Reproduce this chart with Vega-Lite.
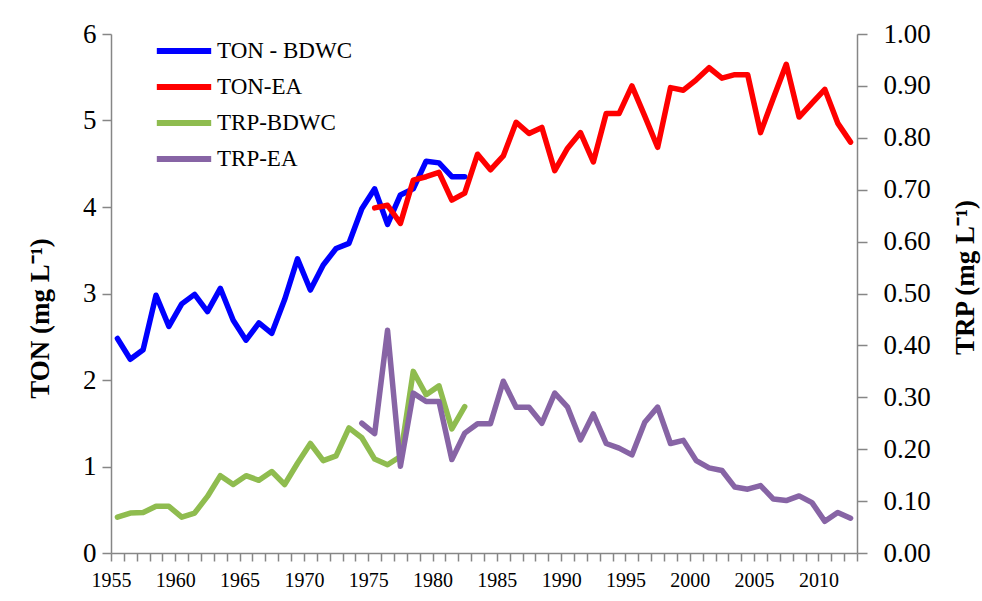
{
  "$schema": "https://vega.github.io/schema/vega-lite/v6.json",
  "width": 746,
  "height": 519,
  "autosize": {"type": "none"},
  "padding": {"left": 111, "top": 34, "right": 125, "bottom": 48},
  "background": "white",
  "config": {
    "view": {"stroke": null},
    "font": "Liberation Serif",
    "axis": {
      "grid": false,
      "domainColor": "#868686",
      "tickColor": "#868686",
      "domainWidth": 1.5,
      "tickWidth": 1.5,
      "labelFont": "Liberation Serif",
      "labelColor": "#000000",
      "titleFont": "Liberation Serif",
      "titleColor": "#000000"
    }
  },
  "datasets": {
    "ton": [
      {"year": 1955, "series": "TON - BDWC", "value": 2.48},
      {"year": 1956, "series": "TON - BDWC", "value": 2.24},
      {"year": 1957, "series": "TON - BDWC", "value": 2.35},
      {"year": 1958, "series": "TON - BDWC", "value": 2.98},
      {"year": 1959, "series": "TON - BDWC", "value": 2.62},
      {"year": 1960, "series": "TON - BDWC", "value": 2.88},
      {"year": 1961, "series": "TON - BDWC", "value": 2.99},
      {"year": 1962, "series": "TON - BDWC", "value": 2.79},
      {"year": 1963, "series": "TON - BDWC", "value": 3.06},
      {"year": 1964, "series": "TON - BDWC", "value": 2.69},
      {"year": 1965, "series": "TON - BDWC", "value": 2.46},
      {"year": 1966, "series": "TON - BDWC", "value": 2.66},
      {"year": 1967, "series": "TON - BDWC", "value": 2.54},
      {"year": 1968, "series": "TON - BDWC", "value": 2.93},
      {"year": 1969, "series": "TON - BDWC", "value": 3.40},
      {"year": 1970, "series": "TON - BDWC", "value": 3.04},
      {"year": 1971, "series": "TON - BDWC", "value": 3.33},
      {"year": 1972, "series": "TON - BDWC", "value": 3.52},
      {"year": 1973, "series": "TON - BDWC", "value": 3.58},
      {"year": 1974, "series": "TON - BDWC", "value": 3.98},
      {"year": 1975, "series": "TON - BDWC", "value": 4.21},
      {"year": 1976, "series": "TON - BDWC", "value": 3.80},
      {"year": 1977, "series": "TON - BDWC", "value": 4.14},
      {"year": 1978, "series": "TON - BDWC", "value": 4.21},
      {"year": 1979, "series": "TON - BDWC", "value": 4.53},
      {"year": 1980, "series": "TON - BDWC", "value": 4.51},
      {"year": 1981, "series": "TON - BDWC", "value": 4.35},
      {"year": 1982, "series": "TON - BDWC", "value": 4.35},
      {"year": 1975, "series": "TON-EA", "value": 3.99},
      {"year": 1976, "series": "TON-EA", "value": 4.02},
      {"year": 1977, "series": "TON-EA", "value": 3.81},
      {"year": 1978, "series": "TON-EA", "value": 4.31},
      {"year": 1979, "series": "TON-EA", "value": 4.35},
      {"year": 1980, "series": "TON-EA", "value": 4.40},
      {"year": 1981, "series": "TON-EA", "value": 4.08},
      {"year": 1982, "series": "TON-EA", "value": 4.16},
      {"year": 1983, "series": "TON-EA", "value": 4.61},
      {"year": 1984, "series": "TON-EA", "value": 4.43},
      {"year": 1985, "series": "TON-EA", "value": 4.59},
      {"year": 1986, "series": "TON-EA", "value": 4.98},
      {"year": 1987, "series": "TON-EA", "value": 4.85},
      {"year": 1988, "series": "TON-EA", "value": 4.92},
      {"year": 1989, "series": "TON-EA", "value": 4.42},
      {"year": 1990, "series": "TON-EA", "value": 4.68},
      {"year": 1991, "series": "TON-EA", "value": 4.86},
      {"year": 1992, "series": "TON-EA", "value": 4.52},
      {"year": 1993, "series": "TON-EA", "value": 5.08},
      {"year": 1994, "series": "TON-EA", "value": 5.08},
      {"year": 1995, "series": "TON-EA", "value": 5.40},
      {"year": 1996, "series": "TON-EA", "value": 5.05},
      {"year": 1997, "series": "TON-EA", "value": 4.69},
      {"year": 1998, "series": "TON-EA", "value": 5.38},
      {"year": 1999, "series": "TON-EA", "value": 5.35},
      {"year": 2000, "series": "TON-EA", "value": 5.47},
      {"year": 2001, "series": "TON-EA", "value": 5.61},
      {"year": 2002, "series": "TON-EA", "value": 5.49},
      {"year": 2003, "series": "TON-EA", "value": 5.53},
      {"year": 2004, "series": "TON-EA", "value": 5.53},
      {"year": 2005, "series": "TON-EA", "value": 4.86},
      {"year": 2006, "series": "TON-EA", "value": 5.26},
      {"year": 2007, "series": "TON-EA", "value": 5.65},
      {"year": 2008, "series": "TON-EA", "value": 5.04},
      {"year": 2009, "series": "TON-EA", "value": 5.20},
      {"year": 2010, "series": "TON-EA", "value": 5.36},
      {"year": 2011, "series": "TON-EA", "value": 4.97},
      {"year": 2012, "series": "TON-EA", "value": 4.75}
    ],
    "trp": [
      {"year": 1955, "series": "TRP-BDWC", "value": 0.069},
      {"year": 1956, "series": "TRP-BDWC", "value": 0.077},
      {"year": 1957, "series": "TRP-BDWC", "value": 0.078},
      {"year": 1958, "series": "TRP-BDWC", "value": 0.090},
      {"year": 1959, "series": "TRP-BDWC", "value": 0.090},
      {"year": 1960, "series": "TRP-BDWC", "value": 0.069},
      {"year": 1961, "series": "TRP-BDWC", "value": 0.077},
      {"year": 1962, "series": "TRP-BDWC", "value": 0.109},
      {"year": 1963, "series": "TRP-BDWC", "value": 0.149},
      {"year": 1964, "series": "TRP-BDWC", "value": 0.132},
      {"year": 1965, "series": "TRP-BDWC", "value": 0.149},
      {"year": 1966, "series": "TRP-BDWC", "value": 0.140},
      {"year": 1967, "series": "TRP-BDWC", "value": 0.157},
      {"year": 1968, "series": "TRP-BDWC", "value": 0.132},
      {"year": 1969, "series": "TRP-BDWC", "value": 0.173},
      {"year": 1970, "series": "TRP-BDWC", "value": 0.211},
      {"year": 1971, "series": "TRP-BDWC", "value": 0.178},
      {"year": 1972, "series": "TRP-BDWC", "value": 0.187},
      {"year": 1973, "series": "TRP-BDWC", "value": 0.241},
      {"year": 1974, "series": "TRP-BDWC", "value": 0.222},
      {"year": 1975, "series": "TRP-BDWC", "value": 0.181},
      {"year": 1976, "series": "TRP-BDWC", "value": 0.170},
      {"year": 1977, "series": "TRP-BDWC", "value": 0.186},
      {"year": 1978, "series": "TRP-BDWC", "value": 0.350},
      {"year": 1979, "series": "TRP-BDWC", "value": 0.305},
      {"year": 1980, "series": "TRP-BDWC", "value": 0.322},
      {"year": 1981, "series": "TRP-BDWC", "value": 0.239},
      {"year": 1982, "series": "TRP-BDWC", "value": 0.282},
      {"year": 1974, "series": "TRP-EA", "value": 0.250},
      {"year": 1975, "series": "TRP-EA", "value": 0.230},
      {"year": 1976, "series": "TRP-EA", "value": 0.429},
      {"year": 1977, "series": "TRP-EA", "value": 0.167},
      {"year": 1978, "series": "TRP-EA", "value": 0.308},
      {"year": 1979, "series": "TRP-EA", "value": 0.292},
      {"year": 1980, "series": "TRP-EA", "value": 0.292},
      {"year": 1981, "series": "TRP-EA", "value": 0.180},
      {"year": 1982, "series": "TRP-EA", "value": 0.231},
      {"year": 1983, "series": "TRP-EA", "value": 0.249},
      {"year": 1984, "series": "TRP-EA", "value": 0.249},
      {"year": 1985, "series": "TRP-EA", "value": 0.331},
      {"year": 1986, "series": "TRP-EA", "value": 0.281},
      {"year": 1987, "series": "TRP-EA", "value": 0.281},
      {"year": 1988, "series": "TRP-EA", "value": 0.250},
      {"year": 1989, "series": "TRP-EA", "value": 0.308},
      {"year": 1990, "series": "TRP-EA", "value": 0.281},
      {"year": 1991, "series": "TRP-EA", "value": 0.218},
      {"year": 1992, "series": "TRP-EA", "value": 0.268},
      {"year": 1993, "series": "TRP-EA", "value": 0.211},
      {"year": 1994, "series": "TRP-EA", "value": 0.202},
      {"year": 1995, "series": "TRP-EA", "value": 0.189},
      {"year": 1996, "series": "TRP-EA", "value": 0.252},
      {"year": 1997, "series": "TRP-EA", "value": 0.281},
      {"year": 1998, "series": "TRP-EA", "value": 0.211},
      {"year": 1999, "series": "TRP-EA", "value": 0.217},
      {"year": 2000, "series": "TRP-EA", "value": 0.178},
      {"year": 2001, "series": "TRP-EA", "value": 0.164},
      {"year": 2002, "series": "TRP-EA", "value": 0.159},
      {"year": 2003, "series": "TRP-EA", "value": 0.127},
      {"year": 2004, "series": "TRP-EA", "value": 0.123},
      {"year": 2005, "series": "TRP-EA", "value": 0.130},
      {"year": 2006, "series": "TRP-EA", "value": 0.104},
      {"year": 2007, "series": "TRP-EA", "value": 0.101},
      {"year": 2008, "series": "TRP-EA", "value": 0.110},
      {"year": 2009, "series": "TRP-EA", "value": 0.097},
      {"year": 2010, "series": "TRP-EA", "value": 0.061},
      {"year": 2011, "series": "TRP-EA", "value": 0.078},
      {"year": 2012, "series": "TRP-EA", "value": 0.067}
    ]
  },
  "encoding": {
    "x": {
      "field": "year",
      "type": "quantitative",
      "scale": {"domain": [1954.5, 2012.5], "nice": false, "zero": false},
      "axis": {
        "title": null,
        "values": [1954.5,1955.5,1956.5,1957.5,1958.5,1959.5,1960.5,1961.5,1962.5,1963.5,1964.5,1965.5,1966.5,1967.5,1968.5,1969.5,1970.5,1971.5,1972.5,1973.5,1974.5,1975.5,1976.5,1977.5,1978.5,1979.5,1980.5,1981.5,1982.5,1983.5,1984.5,1985.5,1986.5,1987.5,1988.5,1989.5,1990.5,1991.5,1992.5,1993.5,1994.5,1995.5,1996.5,1997.5,1998.5,1999.5,2000.5,2001.5,2002.5,2003.5,2004.5,2005.5,2006.5,2007.5,2008.5,2009.5,2010.5,2011.5,2012.5],
        "labelExpr": "(datum.value + 0.5) % 5 == 0 ? format(datum.value + 0.5, 'd') : ''",
        "labelOverlap": false,
        "labelFlush": false,
        "labelDx": 6.4,
        "labelFontSize": 20,
        "labelPadding": 9,
        "tickSize": 8
      }
    }
  },
  "layer": [
    {
      "data": {"name": "ton"},
      "mark": {"type": "line", "strokeWidth": 5.5, "strokeJoin": "round", "strokeCap": "round"},
      "encoding": {
        "y": {
          "field": "value",
          "type": "quantitative",
          "scale": {"domain": [0, 6], "nice": false},
          "axis": {
            "orient": "left",
            "title": "TON (mg L⁻¹)",
            "titleFontSize": 27,
            "titleFontWeight": "bold",
            "titleAngle": 270,
            "titleX": -71,
            "titleY": 284,
            "titleAlign": "center",
            "titleBaseline": "middle",
            "values": [0, 1, 2, 3, 4, 5, 6],
            "format": "d",
            "labelFontSize": 27,
            "labelPadding": 6,
            "tickSize": 9
          }
        },
        "color": {
          "field": "series",
          "type": "nominal",
          "scale": {
            "domain": ["TON - BDWC", "TON-EA", "TRP-BDWC", "TRP-EA"],
            "range": ["#0000FF", "#FF0000", "#8FBC4F", "#8764A5"]
          },
          "legend": {
            "title": null,
            "orient": "none",
            "legendX": 49,
            "legendY": -7,
            "symbolType": "M-1.3,0L1.3,0",
            "symbolSize": 1750,
            "symbolStrokeWidth": 6,
            "symbolStrokeCap": "round",
            "labelFont": "Liberation Serif",
            "labelFontSize": 23,
            "labelColor": "#000000",
            "rowPadding": 0,
            "labelOffset": 9
          }
        }
      }
    },
    {
      "data": {"name": "trp"},
      "mark": {"type": "line", "strokeWidth": 5.5, "strokeJoin": "round", "strokeCap": "round"},
      "encoding": {
        "y": {
          "field": "value",
          "type": "quantitative",
          "scale": {"domain": [0, 1], "nice": false},
          "axis": {
            "orient": "right",
            "title": "TRP (mg L⁻¹)",
            "titleFontSize": 27,
            "titleFontWeight": "bold",
            "titleAngle": 270,
            "titleX": 108,
            "titleY": 243,
            "titleAlign": "center",
            "titleBaseline": "middle",
            "values": [0, 0.1, 0.2, 0.3, 0.4, 0.5, 0.6, 0.7, 0.8, 0.9, 1.0],
            "format": ".2f",
            "labelFontSize": 27,
            "labelPadding": 16,
            "tickSize": 10
          }
        },
        "color": {"field": "series", "type": "nominal"}
      }
    }
  ],
  "resolve": {"scale": {"y": "independent"}}
}
